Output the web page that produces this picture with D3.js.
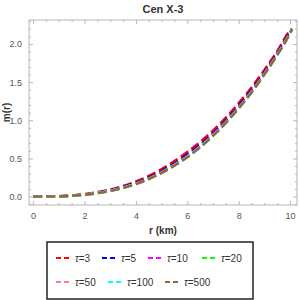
<!DOCTYPE html>
<html>
<head>
<meta charset="utf-8">
<script src="https://cdn.jsdelivr.net/npm/d3@7"></script>
<style>
  body { margin: 0; background: #fff; }
  svg { font-family: "Liberation Sans", Arial, sans-serif; display: block; }
</style>
</head>
<body>
<div class="container"></div>
<script>
const width = 300;
const height = 300;

// radius (km)
const radius = [0, 0.5, 1, 1.5, 2, 2.5, 3, 3.5, 4, 4.5, 5, 5.5, 6, 6.5, 7, 7.5, 8, 8.5, 9, 9.5, 10, 10.08];

// m(r) for each tau
const mTau3   = [0, 0.001, 0.005, 0.014, 0.031, 0.057, 0.092, 0.138, 0.197, 0.27, 0.36, 0.465, 0.585, 0.715, 0.865, 1.035, 1.225, 1.43, 1.66, 1.905, 2.175, 2.2];
const mTau5   = [0, 0.001, 0.004, 0.012, 0.027, 0.05, 0.082, 0.125, 0.18, 0.25, 0.335, 0.435, 0.55, 0.68, 0.83, 1.0, 1.19, 1.4, 1.63, 1.88, 2.16, 2.197];
const mTau10  = [0, 0.001, 0.004, 0.011, 0.025, 0.047, 0.077, 0.118, 0.171, 0.238, 0.321, 0.418, 0.531, 0.66, 0.81, 0.98, 1.17, 1.38, 1.614, 1.866, 2.149, 2.196];
const mTau20  = [0, 0.001, 0.003, 0.011, 0.024, 0.046, 0.076, 0.116, 0.168, 0.234, 0.317, 0.414, 0.525, 0.655, 0.804, 0.975, 1.165, 1.375, 1.61, 1.862, 2.146, 2.195];
const mTau50  = [0, 0.001, 0.003, 0.01, 0.024, 0.045, 0.075, 0.114, 0.166, 0.231, 0.313, 0.41, 0.52, 0.65, 0.8, 0.97, 1.16, 1.37, 1.605, 1.858, 2.143, 2.195];
const mTau100 = [0, 0.001, 0.003, 0.01, 0.023, 0.044, 0.074, 0.113, 0.164, 0.229, 0.311, 0.407, 0.517, 0.647, 0.797, 0.967, 1.157, 1.367, 1.602, 1.856, 2.141, 2.195];
const mTau500 = [0, 0.001, 0.003, 0.01, 0.023, 0.044, 0.073, 0.112, 0.163, 0.228, 0.31, 0.405, 0.515, 0.645, 0.795, 0.965, 1.155, 1.365, 1.6, 1.855, 2.14, 2.195];

const tauLabels = ['3', '5', '10', '20', '50', '100', '500'];
const colors = ['#ff0000', '#0000ff', '#ff00ff', '#00ff00', '#ff8080', '#00ffff', '#996633'];
const seriesList = [mTau3, mTau5, mTau10, mTau20, mTau50, mTau100, mTau500];

const xMajor = [0, 2, 4, 6, 8, 10];
const yMajor = [0, 0.5, 1.0, 1.5, 2.0];

const plotLeft = 29, plotRight = 297, plotTop = 20, plotBottom = 205;

const x = d3.scaleLinear().domain([-0.16, 10.27]).range([plotLeft, plotRight]);
const y = d3.scaleLinear().domain([-0.111, 2.315]).range([plotBottom, plotTop]);

const svg = d3.select('.container')
    .append('svg')
    .attr('width', width)
    .attr('height', height);

// frame
svg.append('rect')
    .attr('x', plotLeft).attr('y', plotTop)
    .attr('width', plotRight - plotLeft).attr('height', plotBottom - plotTop)
    .attr('fill', 'none')
    .attr('stroke', '#b5b5b5')
    .attr('stroke-width', 1);

const xMinor = d3.range(0, 10.3, 0.5).filter(v => !xMajor.includes(v));
const yMinor = d3.range(-0.1, 2.31, 0.1).map(v => Math.round(v * 10) / 10).filter(v => !yMajor.includes(v));

function styleAxis(g) {
    g.select('.domain').remove();
    g.selectAll('line').attr('stroke', '#b5b5b5');
    g.selectAll('text').attr('fill', '#555').attr('font-size', 9);
}

// bottom
svg.append('g').attr('transform', `translate(0,${plotBottom})`)
    .call(d3.axisBottom(x).tickValues(xMajor).tickSize(-4).tickPadding(8).tickFormat(d3.format('d')))
    .call(styleAxis);
svg.append('g').attr('transform', `translate(0,${plotBottom})`)
    .call(d3.axisBottom(x).tickValues(xMinor).tickSize(-2).tickFormat(''))
    .call(styleAxis);
// top
svg.append('g').attr('transform', `translate(0,${plotTop})`)
    .call(d3.axisTop(x).tickValues(xMajor).tickSize(-4).tickFormat(''))
    .call(styleAxis);
svg.append('g').attr('transform', `translate(0,${plotTop})`)
    .call(d3.axisTop(x).tickValues(xMinor).tickSize(-2).tickFormat(''))
    .call(styleAxis);
// left
svg.append('g').attr('transform', `translate(${plotLeft},0)`)
    .call(d3.axisLeft(y).tickValues(yMajor).tickSize(-4).tickPadding(7).tickFormat(d3.format('.1f')))
    .call(styleAxis);
svg.append('g').attr('transform', `translate(${plotLeft},0)`)
    .call(d3.axisLeft(y).tickValues(yMinor).tickSize(-2).tickFormat(''))
    .call(styleAxis);
// right
svg.append('g').attr('transform', `translate(${plotRight},0)`)
    .call(d3.axisRight(y).tickValues(yMajor).tickSize(-4).tickFormat(''))
    .call(styleAxis);
svg.append('g').attr('transform', `translate(${plotRight},0)`)
    .call(d3.axisRight(y).tickValues(yMinor).tickSize(-2).tickFormat(''))
    .call(styleAxis);

// curves
const line = d3.line()
    .x((d, i) => x(radius[i]))
    .y(d => y(d))
    .curve(d3.curveMonotoneX);

svg.append('clipPath').attr('id', 'clip')
    .append('rect')
    .attr('x', plotLeft).attr('y', plotTop)
    .attr('width', plotRight - plotLeft).attr('height', plotBottom - plotTop);

svg.append('g')
    .attr('clip-path', 'url(#clip)')
    .selectAll('path')
    .data(seriesList)
    .enter()
    .append('path')
    .attr('d', line)
    .attr('fill', 'none')
    .attr('stroke', (d, i) => colors[i])
    .attr('stroke-width', 2.5)
    .attr('stroke-dasharray', '9,4');

// title and labels
svg.append('text')
    .attr('x', 163).attr('y', 13)
    .attr('text-anchor', 'middle')
    .attr('font-size', 11)
    .attr('font-weight', 'bold')
    .attr('fill', '#333')
    .text('Cen X-3');

svg.append('text')
    .attr('x', 163).attr('y', 234)
    .attr('text-anchor', 'middle')
    .attr('font-size', 10)
    .attr('font-weight', 'bold')
    .attr('fill', '#333')
    .text('r (km)');

svg.append('text')
    .attr('transform', `translate(10,${(plotTop + plotBottom) / 2}) rotate(-90)`)
    .attr('text-anchor', 'middle')
    .attr('font-size', 10)
    .attr('font-weight', 'bold')
    .attr('fill', '#333')
    .text('m(r)');

// legend
svg.append('rect')
    .attr('x', 47).attr('y', 242)
    .attr('width', 206).attr('height', 57)
    .attr('fill', '#fff')
    .attr('stroke', '#222')
    .attr('stroke-width', 1.5);

const legendPos = [
    [56, 258], [102, 258], [148, 258], [202, 258],
    [56, 282], [108, 282], [165, 282]
];

const legend = svg.append('g')
    .selectAll('g')
    .data(tauLabels)
    .enter()
    .append('g')
    .attr('transform', (d, i) => `translate(${legendPos[i][0]},${legendPos[i][1]})`);

legend.append('line')
    .attr('x1', 0).attr('x2', 14)
    .attr('y1', 0).attr('y2', 0)
    .attr('stroke', (d, i) => colors[i])
    .attr('stroke-width', 2)
    .attr('stroke-dasharray', '5,3');

legend.append('text')
    .attr('x', 19).attr('y', 3.5)
    .attr('font-size', 10)
    .attr('fill', '#333')
    .html(d => `<tspan font-style="italic">τ</tspan>=${d}`);
</script>
</body>
</html>
